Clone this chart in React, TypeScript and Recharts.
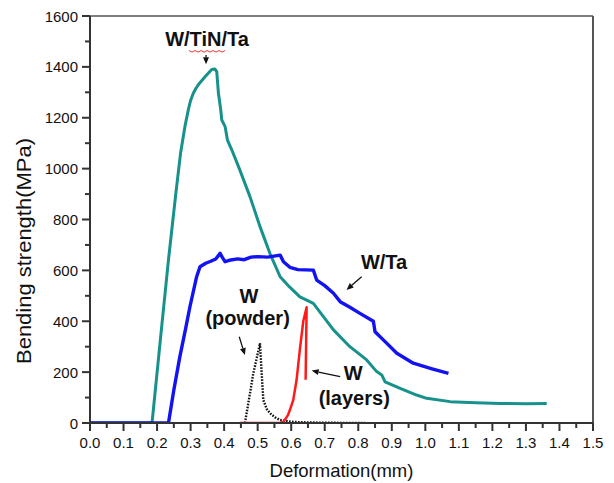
import React from 'react';
import { LineChart, Line, XAxis, YAxis, ReferenceLine, ReferenceDot } from 'recharts';

// W/TiN/Ta (teal)
const tinX = [0, 0.185, 0.21, 0.234, 0.256, 0.27, 0.283, 0.293, 0.3, 0.308, 0.317, 0.326, 0.343, 0.363, 0.372, 0.378, 0.383, 0.39, 0.393, 0.403, 0.41, 0.423, 0.447, 0.477, 0.507, 0.537, 0.567, 0.595, 0.626, 0.666, 0.726, 0.775, 0.825, 0.855, 0.87, 0.88, 0.925, 0.974, 1.004, 1.074, 1.15, 1.223, 1.3, 1.362];
const tinY = [0, 0, 330, 641, 903, 1060, 1165, 1230, 1268, 1296, 1318, 1335, 1361, 1390, 1392, 1381, 1296, 1230, 1191, 1165, 1112, 1073, 994, 890, 772, 665, 575, 535, 496, 470, 366, 300, 248, 202, 189, 162, 136, 110, 97, 84, 80, 77, 76, 77];

// W/Ta (blue)
const taX = [0, 0.234, 0.25, 0.268, 0.285, 0.298, 0.318, 0.328, 0.345, 0.36, 0.375, 0.388, 0.395, 0.403, 0.42, 0.44, 0.46, 0.48, 0.5, 0.53, 0.567, 0.577, 0.596, 0.62, 0.666, 0.676, 0.7, 0.726, 0.746, 0.775, 0.805, 0.845, 0.85, 0.88, 0.915, 0.964, 1.02, 1.069];
const taY = [0, 0, 130, 261, 370, 457, 575, 614, 628, 636, 645, 667, 650, 634, 641, 645, 642, 652, 654, 652, 660, 634, 612, 603, 601, 562, 540, 510, 477, 455, 431, 400, 359, 320, 274, 235, 213, 195];

// W (powder) (black dotted)
const powderX = [0.462, 0.475, 0.487, 0.507, 0.512, 0.517, 0.527, 0.537, 0.552, 0.567, 0.6, 0.626, 0.7, 0.82];
const powderY = [0, 100, 195, 313, 196, 90, 55, 38, 22, 12, 5, 3, 1, 0];

// W (layers) (red)
const layersX = [0.447, 0.567, 0.577, 0.59, 0.596, 0.606, 0.616, 0.626, 0.636, 0.646, 0.643];
const layersY = [0, 0, 5, 30, 51, 90, 169, 290, 400, 455, 170];

const xTicks = [0, 0.05, 0.1, 0.15, 0.2, 0.25, 0.3, 0.35, 0.4, 0.45, 0.5, 0.55, 0.6, 0.65, 0.7, 0.75, 0.8, 0.85, 0.9, 0.95, 1.0, 1.05, 1.1, 1.15, 1.2, 1.25, 1.3, 1.35, 1.4, 1.45, 1.5];
const yTicks = [0, 100, 200, 300, 400, 500, 600, 700, 800, 900, 1000, 1100, 1200, 1300, 1400, 1500, 1600];

// annotations
const noteText = ['W/TiN/Ta', 'W/Ta', 'W', '(powder)', 'W', '(layers)'];
const noteX = [0.349, 0.877, 0.474, 0.47, 0.785, 0.788];
const noteY = [1482, 604, 470, 385, 169, 71];

const arrowFromX = [0.346, 0.81, 0.445, 0.746];
const arrowFromY = [1447, 575, 339, 182];
const arrowToX = [0.346, 0.765, 0.462, 0.661];
const arrowToY = [1410, 523, 267, 206];

const FONT = 'Liberation Sans, Arial, sans-serif';

const mk = (xs: number[], ys: number[]) => xs.map((x, i) => ({ x, y: ys[i] }));
const tinData = mk(tinX, tinY);
const taData = mk(taX, taY);
const powderData = mk(powderX, powderY);
const layersData = mk(layersX, layersY);

const XTick = (props: any) => {
  const { x, y, payload } = props;
  const v = payload.value as number;
  const major = Math.round(v * 100) % 10 === 0;
  return (
    <g>
      <line x1={x} y1={y} x2={x} y2={y + (major ? 8 : 5)} stroke="#333" strokeWidth={2} />
      {major && (
        <text x={x} y={y + 25} textAnchor="middle" fontSize={15} fill="#111" fontFamily={FONT}>
          {v.toFixed(1)}
        </text>
      )}
    </g>
  );
};

const YTick = (props: any) => {
  const { x, y, payload } = props;
  const v = payload.value as number;
  const major = v % 200 === 0;
  return (
    <g>
      <line x1={x - (major ? 8 : 5)} y1={y} x2={x} y2={y} stroke="#333" strokeWidth={2} />
      {major && (
        <text x={x - 12} y={y + 5.5} textAnchor="end" fontSize={15} fill="#111" fontFamily={FONT}>
          {v}
        </text>
      )}
    </g>
  );
};

const arrowShape = (p: any) => {
  const { x1, y1, x2, y2 } = p;
  const dx = x2 - x1;
  const dy = y2 - y1;
  const len = Math.sqrt(dx * dx + dy * dy) || 1;
  const ux = dx / len;
  const uy = dy / len;
  const hl = 7;
  const hw = 3;
  const bx = x2 - ux * hl;
  const by = y2 - uy * hl;
  const pts = `${x2},${y2} ${bx - uy * hw},${by + ux * hw} ${bx + uy * hw},${by - ux * hw}`;
  return (
    <g>
      <line x1={x1} y1={y1} x2={bx} y2={by} stroke="#111" strokeWidth={1.3} />
      <polygon points={pts} fill="#111" />
    </g>
  );
};

const noteShape = (text: string, idx: number) => (p: any) => {
  const { cx, cy } = p;
  let wave = null;
  if (idx === 0) {
    const x0 = cx - 18;
    const segs: string[] = [];
    for (let i = 0; i <= 12; i++) {
      segs.push(`${x0 + i * 3},${cy + 4.5 + (i % 2 === 0 ? 0 : 1.6)}`);
    }
    wave = <polyline points={segs.join(' ')} fill="none" stroke="#e02020" strokeWidth={0.9} />;
  }
  return (
    <g>
      <text x={cx} y={cy} textAnchor="middle" fontSize={20} fontWeight="bold" fill="#111" fontFamily={FONT}>
        {text}
      </text>
      {wave}
    </g>
  );
};

const XLabel = (p: any) => {
  const vb = p.viewBox;
  return (
    <text x={vb.x + vb.width / 2} y={vb.y + 53.5} textAnchor="middle" fontSize={18.5} fill="#111" fontFamily={FONT}>
      Deformation(mm)
    </text>
  );
};

const YLabel = (p: any) => {
  const vb = p.viewBox;
  const cx = 31;
  const cy = vb.y + vb.height / 2 + 31.5;
  return (
    <text
      x={cx}
      y={cy}
      transform={`rotate(-90 ${cx} ${cy})`}
      textAnchor="middle"
      fontSize={19.5}
      fill="#111"
      fontFamily={FONT}
      textLength={226}
      lengthAdjust="spacingAndGlyphs"
    >
      Bending strength(MPa)
    </text>
  );
};

export default function App() {
  return (
    <div style={{ position: 'absolute', left: 0, top: 0, width: 614, height: 483, background: '#fff' }}>
      <LineChart width={614} height={483} margin={{ top: 16, right: 21, bottom: 0, left: 0 }}>
        <XAxis
          type="number"
          dataKey="x"
          domain={[0, 1.5]}
          ticks={xTicks}
          interval={0}
          tickSize={0}
          tickMargin={0}
          tickLine={false}
          tick={<XTick />}
          axisLine={{ stroke: '#333', strokeWidth: 2 }}
          height={60}
          allowDataOverflow
          label={<XLabel />}
        />
        <YAxis
          type="number"
          dataKey="y"
          domain={[0, 1600]}
          ticks={yTicks}
          interval={0}
          tickSize={0}
          tickMargin={0}
          tickLine={false}
          tick={<YTick />}
          axisLine={{ stroke: '#333', strokeWidth: 2 }}
          width={90}
          allowDataOverflow
          label={<YLabel />}
        />
        <ReferenceLine y={1600} stroke="#555" strokeWidth={1.5} />
        <ReferenceLine x={1.5} stroke="#555" strokeWidth={2} />
        <Line data={tinData} dataKey="y" type="linear" stroke="#17918b" strokeWidth={3} dot={false} isAnimationActive={false} strokeLinejoin="round" />
        <Line data={taData} dataKey="y" type="linear" stroke="#1212f2" strokeWidth={3.4} dot={false} isAnimationActive={false} strokeLinejoin="round" />
        <Line data={powderData} dataKey="y" type="linear" stroke="#111" strokeWidth={2.4} strokeDasharray="1.6 1.4" dot={false} isAnimationActive={false} />
        <Line data={layersData} dataKey="y" type="linear" stroke="#ff1a1a" strokeWidth={2.5} dot={false} isAnimationActive={false} strokeLinejoin="round" />
        {arrowFromX.map((fx, i) => (
          <ReferenceLine
            key={'a' + i}
            segment={[{ x: fx, y: arrowFromY[i] }, { x: arrowToX[i], y: arrowToY[i] }]}
            stroke="#111"
            shape={arrowShape}
          />
        ))}
        {noteText.map((t, i) => (
          <ReferenceDot key={'n' + i} x={noteX[i]} y={noteY[i]} r={0} shape={noteShape(t, i)} />
        ))}
      </LineChart>
    </div>
  );
}
